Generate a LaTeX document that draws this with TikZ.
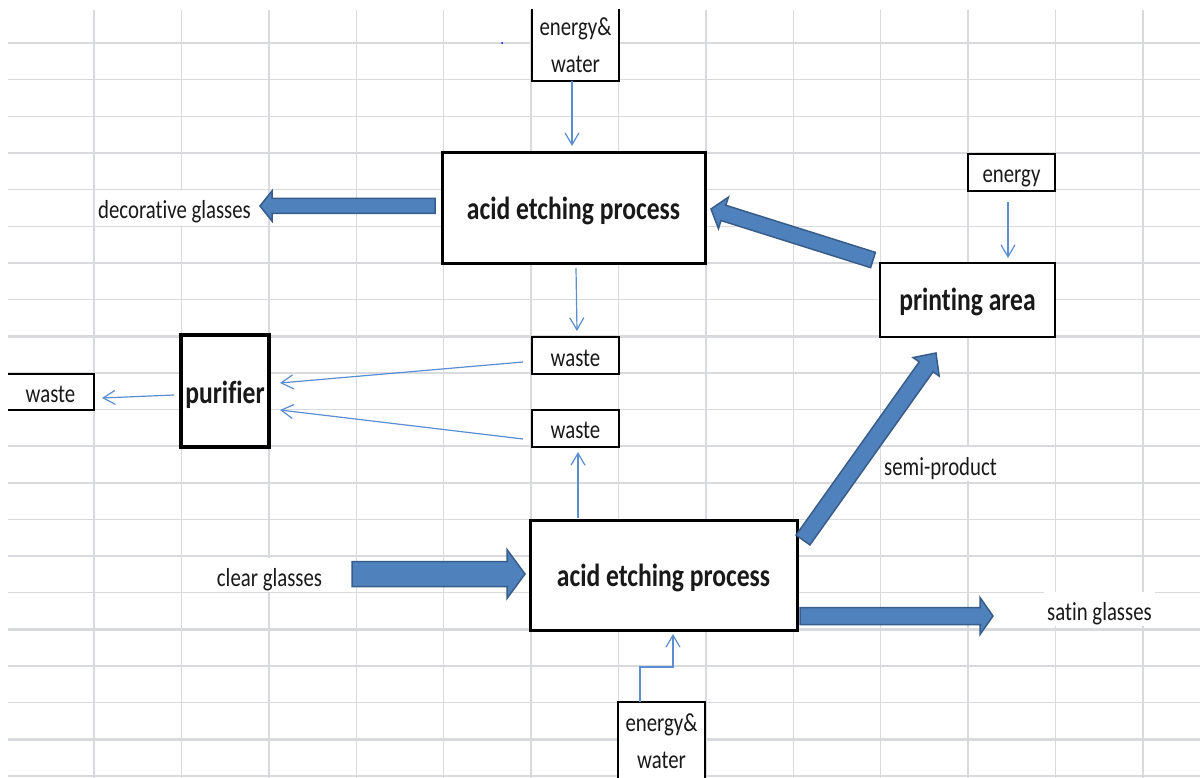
\documentclass[tikz,border=0pt]{standalone}
\usepackage{fontspec}
\newfontfamily\calfont{Carlito}[FakeStretch=0.8,Ligatures=NoCommon]
\usetikzlibrary{calc,arrows.meta}
\definecolor{gridgray}{RGB}{216,218,222}
\definecolor{blockfill}{RGB}{79,129,189}
\definecolor{blockedge}{RGB}{56,93,138}
\definecolor{thinblue}{RGB}{91,141,210}
\definecolor{txt}{RGB}{25,25,25}
\newcommand{\regsize}{\fontsize{26pt}{37pt}\selectfont}
\newcommand{\boldsize}{\fontsize{32pt}{38pt}\selectfont\bfseries}
\newcommand{\blockarr}[5]{%
  \coordinate (ba-h) at ($(#2)!#5!(#1)$);
  \draw[blockstyle] ($(#1)!#3!90:(#2)$) -- ($(ba-h)!#3!90:(#2)$) -- ($(ba-h)!#4!90:(#2)$) -- (#2)
    -- ($(ba-h)!#4!-90:(#2)$) -- ($(ba-h)!#3!-90:(#2)$) -- ($(#1)!#3!-90:(#2)$) -- cycle;
}
\tikzset{
  gridline/.style={draw=gridgray, line width=1.4pt},
  gridthick/.style={draw=gridgray, line width=2.6pt},
  smallbox/.style={draw=black, fill=white, line width=1.5pt, rectangle, inner sep=0pt, outer sep=0pt,
    text=txt, font=\calfont\regsize, text height=22pt, text depth=1pt},
  bigbox/.style={draw=black, fill=white, line width=3pt, rectangle, inner sep=0pt, outer sep=0pt,
    text=txt, font=\calfont\boldsize, text height=24pt, text depth=1pt},
  plainlabel/.style={fill=white, inner xsep=3pt, inner ysep=0pt, outer sep=0pt, minimum height=34pt,
    text=txt, font=\calfont\regsize, text height=23pt, text depth=1pt},
  thinarr/.style={draw=thinblue, line width=1.2pt, -{Straight Barb[length=12pt,width=14pt]}},
  blockstyle/.style={fill=blockfill, draw=blockedge, line width=1.5pt, line join=miter},
}
\begin{document}
\begin{tikzpicture}[x=1pt,y=-1pt]
\useasboundingbox (0,0) rectangle (1200,778);
\fill[white] (0,0) rectangle (1200,778);
\begin{scope}
\clip (8,10) rectangle (1200,778);
% spreadsheet grid
\foreach \i in {0,...,12} \draw[gridline] ({94+87.4*\i},10) -- ({94+87.4*\i},778);
\foreach \j in {1,2,4,5,6,7,9,10,12,13,14,15,17,18,20} \draw[gridline] (8,{43+36.65*\j}) -- (1200,{43+36.65*\j});
\foreach \j in {0,3,8,11,16,19} \draw[gridthick] (8,{43+36.65*\j}) -- (1200,{43+36.65*\j});
\fill[blue] (502,43) circle (1pt);

% boxes
\node[smallbox, minimum width=87pt, minimum height=91pt, text height=76pt, text depth=1pt] (ew1) at (575.5,35.5)
  {\begin{tabular}[b]{@{}c@{}}energy\&\\water\end{tabular}};
\node[bigbox, minimum width=263pt, minimum height=111pt] (acid1) at (573.5,208.5) {acid etching process};
\node[smallbox, minimum width=87pt, minimum height=37pt] (energy) at (1011.5,172.5) {energy};
\node[bigbox, line width=2.5pt, minimum width=175pt, minimum height=74pt, text height=22pt] (print) at (967.5,300) {printing area};
\node[smallbox, minimum width=87pt, minimum height=37pt] (waste1) at (575.5,355.5) {waste};
\node[smallbox, minimum width=87pt, minimum height=37pt, text height=20pt] (waste2) at (575.5,428.5) {waste};
\node[bigbox, line width=3.5pt, minimum width=88pt, minimum height=112pt, text height=25pt] (pur) at (225,391) {purifier};
\node[smallbox, minimum width=87pt, minimum height=36pt] (wasteL) at (50.5,392) {waste};
\node[bigbox, minimum width=267pt, minimum height=110pt, text height=23pt] (acid2) at (663.5,575) {acid etching process};
\node[smallbox, minimum width=87pt, minimum height=88pt, text height=45pt, text depth=1pt] (ew2) at (661.5,746)
  {\begin{tabular}[b]{@{}c@{}}energy\&\\water\end{tabular}};

% plain labels
\node[plainlabel] (dec) at (174.5,208) {decorative glasses};
\node[plainlabel] (clear) at (269.5,575) {clear glasses};
\node[plainlabel] (satin) at (1099.5,609) {satin glasses};
\node[plainlabel] (semi) at (940.5,464) {semi-product};

% thin connectors
\draw[thinarr] ([xshift=-3.5pt]ew1.south) -- ([xshift=-1.5pt,yshift=7pt]acid1.north);
\draw[thinarr] ([xshift=2.5pt,yshift=-4pt]acid1.south) -- ([xshift=1.5pt,yshift=6pt]waste1.north);
\draw[thinarr] ([xshift=-3.5pt,yshift=-11pt]energy.south) -- ([xshift=40.5pt,yshift=5pt]print.north);
\draw[thinarr] ([xshift=-9pt,yshift=-6.5pt]waste1.west) -- ([xshift=11pt,yshift=8pt]pur.east);
\draw[thinarr] ([xshift=-9pt,yshift=-10.5pt]waste2.west) -- ([xshift=11pt,yshift=-19pt]pur.east);
\draw[thinarr] ([xshift=-7pt,yshift=-4pt]pur.west) -- ([xshift=8pt,yshift=-6pt]wasteL.east);
\draw[thinarr] ([xshift=48pt,yshift=2pt]acid2.north west) -- ([xshift=2.5pt,yshift=-5pt]waste2.south);
\draw[thinarr] ([xshift=-21.5pt]ew2.north) -- ++(0,-35) -- ++(33,0) -- ([xshift=9.5pt,yshift=-4pt]acid2.south);

% block arrows
\coordinate (decTail) at ([xshift=-7pt,yshift=2.5pt]acid1.west);
\coordinate (decTip) at (260,206);
\blockarr{decTail}{decTip}{7.5pt}{15pt}{12pt}
\coordinate (prTail) at ([xshift=-7pt,yshift=40pt]print.west);
\coordinate (prTip) at ([xshift=6pt,yshift=-0.5pt]acid1.east);
\blockarr{prTail}{prTip}{8pt}{16.5pt}{13pt}
\coordinate (clTail) at (352,574);
\coordinate (clTip) at ([xshift=-5pt,yshift=1pt]acid2.west);
\blockarr{clTail}{clTip}{12.5pt}{24.5pt}{18pt}
\coordinate (saTail) at ([xshift=3pt,yshift=-41pt]acid2.east);
\coordinate (saTip) at (993,616);
\blockarr{saTail}{saTip}{8.5pt}{18.5pt}{13pt}
\coordinate (seTail) at ([xshift=6pt,yshift=35pt]acid2.east);
\coordinate (seTip) at ([xshift=-31.5pt,yshift=-16pt]print.south);
\blockarr{seTail}{seTip}{8.5pt}{16pt}{17pt}
\end{scope}
\end{tikzpicture}
\end{document}
